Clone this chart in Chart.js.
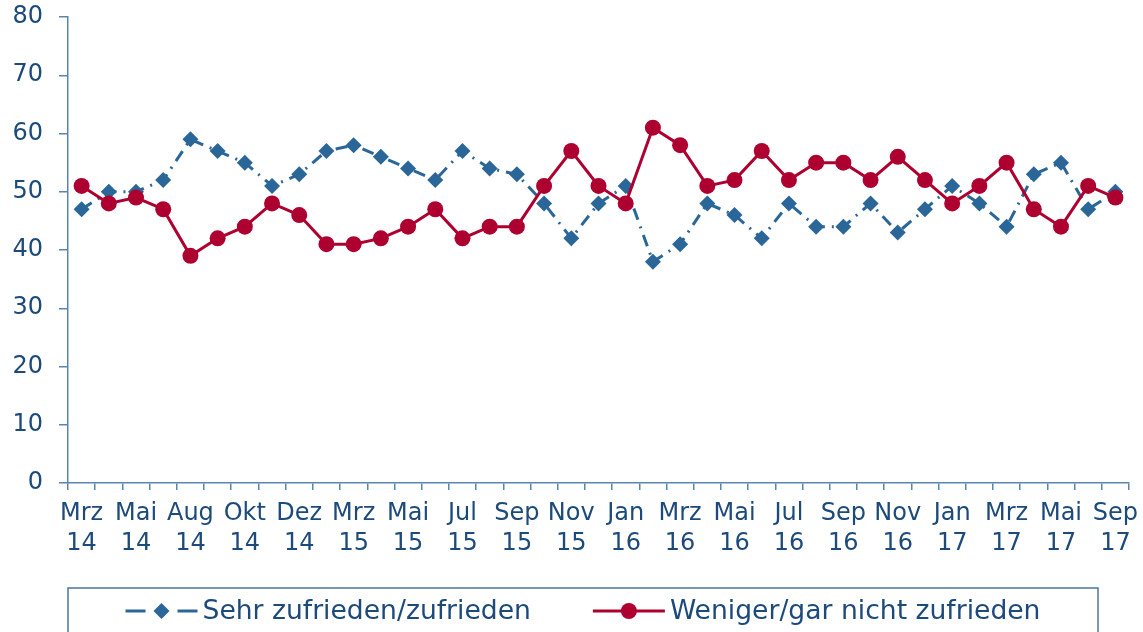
<!DOCTYPE html>
<html>
<head>
<meta charset="utf-8">
<script src="https://cdn.jsdelivr.net/npm/chart.js@4.4.1/dist/chart.umd.min.js"></script>
<style>
  html, body { margin: 0; padding: 0; background: #ffffff; }
  #wrap { width: 1143px; height: 632px; }
</style>
</head>
<body>
<div id="wrap"><canvas id="c" width="1143" height="632"></canvas></div>
<script>
// ---- data ----
const categories = [
  ["Mrz","14"], "", ["Mai","14"], "", ["Aug","14"], "", ["Okt","14"], "", ["Dez","14"], "",
  ["Mrz","15"], "", ["Mai","15"], "", ["Jul","15"], "", ["Sep","15"], "", ["Nov","15"], "",
  ["Jan","16"], "", ["Mrz","16"], "", ["Mai","16"], "", ["Jul","16"], "", ["Sep","16"], "",
  ["Nov","16"], "", ["Jan","17"], "", ["Mrz","17"], "", ["Mai","17"], "", ["Sep","17"]
];
const zufrieden = [47, 50, 50, 52, 59, 57, 55, 51, 53, 57, 58, 56, 54, 52, 57, 54, 53, 48, 42, 48,
                   51, 38, 41, 48, 46, 42, 48, 44, 44, 48, 43, 47, 51, 48, 44, 53, 55, 47, 50];
const nichtZufrieden = [51, 48, 49, 47, 39, 42, 44, 48, 46, 41, 41, 42, 44, 47, 42, 44, 44, 51, 57, 51,
                        48, 61, 58, 51, 52, 57, 52, 55, 55, 52, 56, 52, 48, 51, 55, 47, 44, 51, 49];
const seriesNames = ["Sehr zufrieden/zufrieden", "Weniger/gar nicht zufrieden"];
const yTicks = { min: 0, max: 80, step: 10 };

// ---- styles ----
const BLUE = '#2B6699';
const RED = '#AE0030';
const TEXT = '#1C4A7A';
const AXIS = '#5A85AD';
const FONT = "'DejaVu Sans', Verdana, sans-serif";
const blueDash = [12, 7, 2, 7];

const legendPlugin = {
  id: 'boxLegend',
  afterDraw(chart) {
    const ctx = chart.ctx;
    const left = chart.chartArea.left;
    const right = 1098;
    const top = 588;
    ctx.save();
    ctx.strokeStyle = '#4A77A0';
    ctx.lineWidth = 1.5;
    ctx.strokeRect(left, top, right - left, 80);
    ctx.font = "26.6px " + FONT;
    ctx.textBaseline = 'middle';
    const cy = 611;
    const symW = 72, gapT = 5, gapItems = 62;
    const w1 = ctx.measureText(seriesNames[0]).width;
    const w2 = ctx.measureText(seriesNames[1]).width;
    const total = symW + gapT + w1 + gapItems + symW + gapT + w2;
    let x = (left + right) / 2 - total / 2;
    // item 1: dashed line with diamond
    ctx.strokeStyle = BLUE; ctx.lineWidth = 3;
    ctx.beginPath(); ctx.moveTo(x, cy); ctx.lineTo(x + 20, cy); ctx.stroke();
    ctx.beginPath(); ctx.moveTo(x + symW - 20, cy); ctx.lineTo(x + symW, cy); ctx.stroke();
    ctx.fillStyle = BLUE;
    const dx = x + symW / 2;
    ctx.beginPath(); ctx.moveTo(dx, cy - 8); ctx.lineTo(dx + 8, cy); ctx.lineTo(dx, cy + 8); ctx.lineTo(dx - 8, cy); ctx.closePath(); ctx.fill();
    ctx.fillStyle = TEXT;
    ctx.fillText(seriesNames[0], x + symW + gapT, cy + 1);
    x += symW + gapT + w1 + gapItems;
    // item 2: solid line with circle
    ctx.strokeStyle = RED; ctx.lineWidth = 3;
    ctx.beginPath(); ctx.moveTo(x, cy); ctx.lineTo(x + symW, cy); ctx.stroke();
    ctx.fillStyle = RED;
    ctx.beginPath(); ctx.arc(x + symW / 2, cy, 8, 0, Math.PI * 2); ctx.fill();
    ctx.fillStyle = TEXT;
    ctx.fillText(seriesNames[1], x + symW + gapT, cy + 1);
    ctx.restore();
  }
};

new Chart(document.getElementById('c'), {
  type: 'line',
  data: {
    labels: categories,
    datasets: [
      {
        label: seriesNames[0],
        data: zufrieden,
        borderColor: BLUE,
        backgroundColor: BLUE,
        borderWidth: 3,
        borderDash: blueDash,
        pointStyle: 'rectRot',
        pointRadius: 8,
        pointBorderWidth: 0,
        tension: 0,
        order: 2
      },
      {
        label: seriesNames[1],
        data: nichtZufrieden,
        borderColor: RED,
        backgroundColor: RED,
        borderWidth: 3,
        pointStyle: 'circle',
        pointRadius: 8,
        pointBorderWidth: 0,
        tension: 0,
        order: 1
      }
    ]
  },
  options: {
    responsive: false,
    animation: false,
    events: [],
    layout: { padding: { left: 0, right: 14, top: 17, bottom: 74 } },
    plugins: { legend: { display: false }, tooltip: { enabled: false } },
    scales: {
      x: {
        type: 'category',
        offset: true,
        grid: { offset: true, drawOnChartArea: false, tickLength: 7, color: AXIS, lineWidth: 1.5 },
        border: { color: AXIS, width: 1.5 },
        ticks: {
          autoSkip: false, maxRotation: 0, minRotation: 0, padding: 9,
          color: TEXT, font: { family: FONT, size: 24, lineHeight: 1.25 }
        },
        afterFit(scale) { scale.height = 75; scale.paddingLeft = 0; scale.paddingRight = 0; }
      },
      y: {
        min: yTicks.min, max: yTicks.max,
        grid: { drawOnChartArea: false, tickLength: 9, color: AXIS, lineWidth: 1.5 },
        border: { color: AXIS, width: 1.5 },
        ticks: { stepSize: yTicks.step, padding: 16, color: TEXT, font: { family: FONT, size: 24 } },
        afterFit(scale) { scale.width = 68; scale.paddingTop = 0; scale.paddingBottom = 0; }
      }
    }
  },
  plugins: [legendPlugin]
});
</script>
</body>
</html>
